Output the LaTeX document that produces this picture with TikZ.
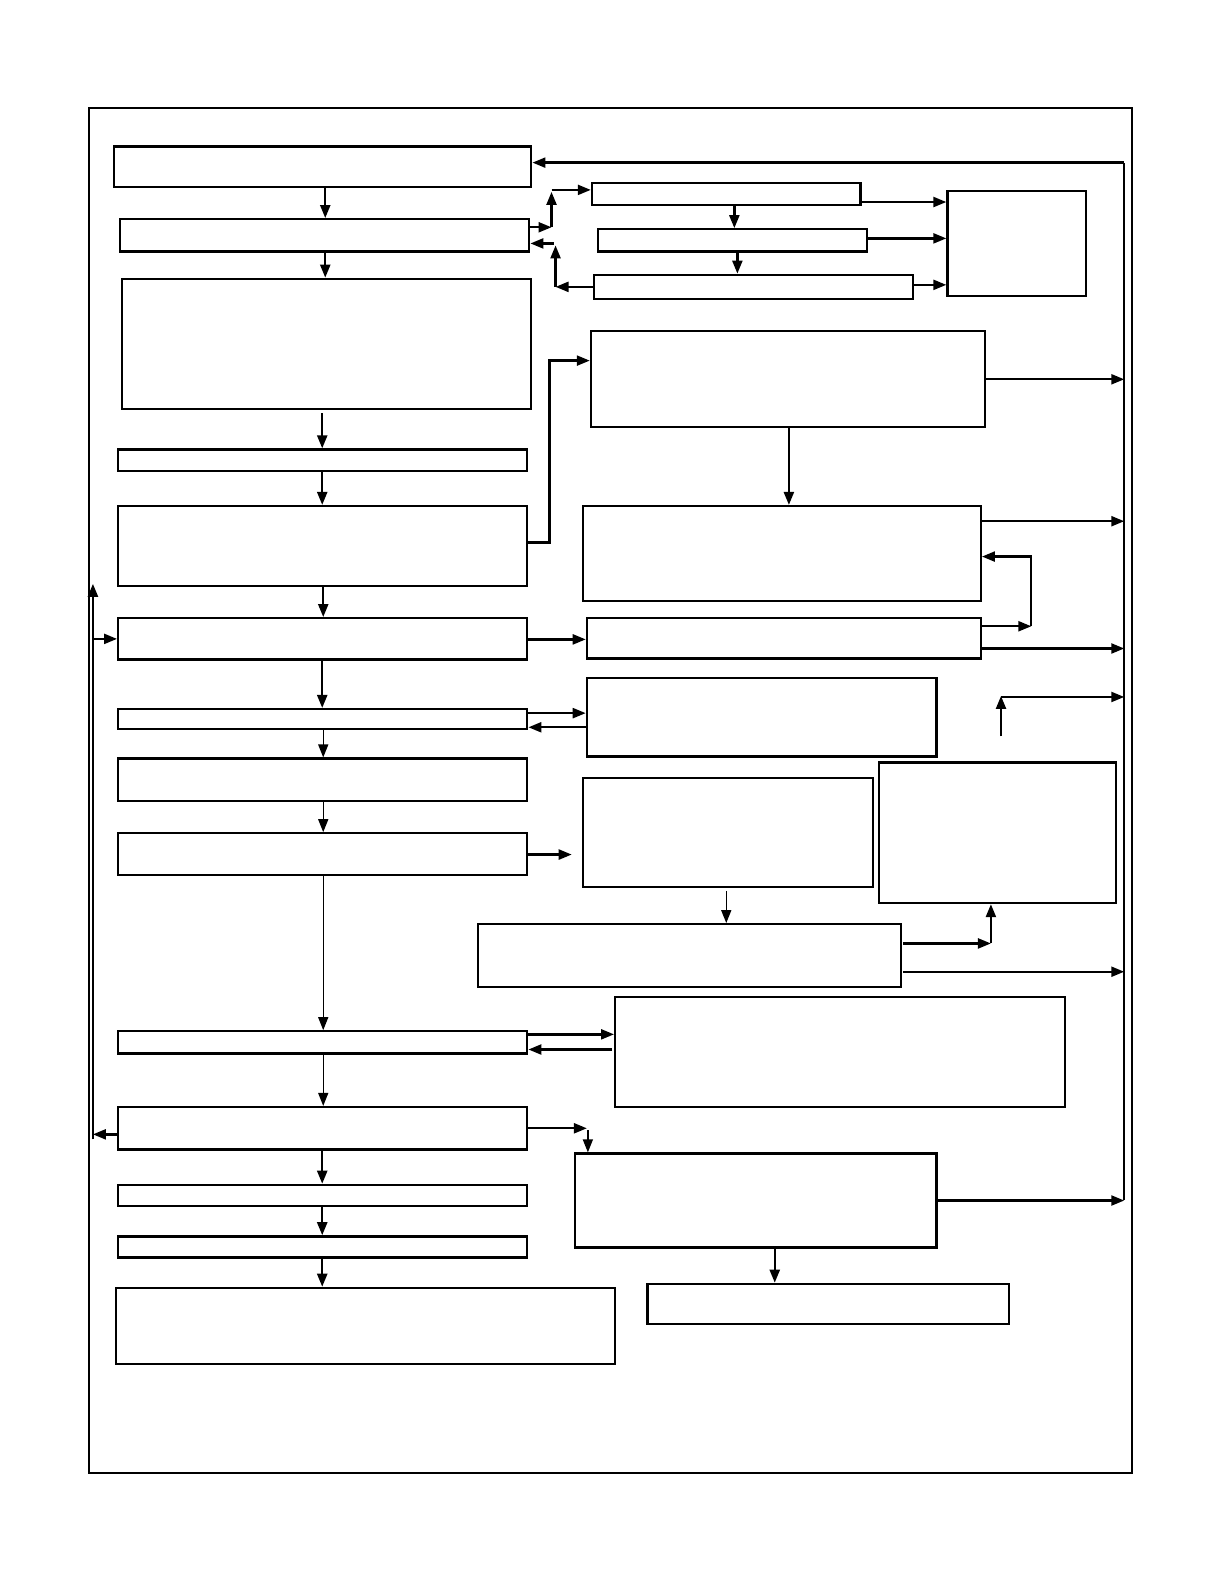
\documentclass[tikz,border=0pt]{standalone}
\usetikzlibrary{arrows.meta,fit}
\begin{document}
\begin{tikzpicture}[x=0.50505pt,y=-0.50505pt,
  box/.style={draw, line width=1.15pt, inner sep=0pt},
  ln/.style={line width=1.15pt},
  arr/.style={line width=1.15pt, -{Triangle[length=6.5pt,width=5pt]}},
  tarr/.style={line width=0.7pt, -{Triangle[length=6.5pt,width=5pt]}}]
\useasboundingbox (0pt,0pt) rectangle (612pt,-792pt);
% outer frame
\node[box, line width=1pt, fit={(88,107) (1121,1458)}] (frame) {};
% left column
\node[box, fit={(113,145) (526,185)}] (b1) {};
\node[box, fit={(119,217) (524,249)}] (b2) {};
\node[box, fit={(121,276) (526,405)}] (b3) {};
\node[box, fit={(117,445) (522,466)}] (b4) {};
\node[box, fit={(117,501) (522,580)}] (b5) {};
\node[box, fit={(117,612) (522,653)}] (b6) {};
\node[box, fit={(117,702) (522,722)}] (b7) {};
\node[box, fit={(117,751) (522,793)}] (b8) {};
\node[box, fit={(117,825) (522,866)}] (b9) {};
\node[box, fit={(117,1021) (522,1043)}] (b10) {};
\node[box, fit={(117,1096) (522,1138)}] (b11) {};
\node[box, fit={(117,1173) (522,1194)}] (b12) {};
\node[box, fit={(117,1224) (522,1245)}] (b13) {};
\node[box, fit={(115,1275) (609,1350)}] (b14) {};
% right side
\node[box, fit={(586,181) (852,203)}] (r1) {};
\node[box, fit={(592,227) (858,249)}] (r2) {};
\node[box, fit={(588,272) (904,296)}] (r3) {};
\node[box, fit={(938,189) (1075,293)}] (r4) {};
\node[box, fit={(585,328) (975,423)}] (r5) {};
\node[box, fit={(577,501) (971,595)}] (r6) {};
\node[box, fit={(581,612) (971,652)}] (r7) {};
\node[box, fit={(581,671) (927,749)}] (r8) {};
\node[box, fit={(577,770) (864,878)}] (r9) {};
\node[box, fit={(870,755) (1105,894)}] (r10) {};
\node[box, fit={(473,915) (892,977)}] (r11) {};
\node[box, fit={(609,987) (1054,1096)}] (r12) {};
\node[box, fit={(569,1142) (927,1235)}] (r13) {};
\node[box, fit={(641,1271) (999,1311)}] (r14) {};
% buses
\coordinate (busT) at (1113,161);
\coordinate (busB) at (1113,1188);
\coordinate (lbT) at (92,578);
\coordinate (lbB) at (92,1128);
\draw[ln] (busB) -- (busT);
\draw[arr] (busT) -- (b1.east |- busT);
\draw[arr] (lbB) -- (lbT);
\draw[arr] (lbT |- b6.west) -- (b6.west);
\draw[arr] (b11.west |- 0,1123) -- (lbT |- 0,1123);
% left column flow
\draw[arr] (b1.south -| 322,0) -- (b2.north -| 322,0);
\draw[arr] (b2.south -| 322,0) -- (b3.north -| 322,0);
\draw[arr] (319,409) -- (b4.north -| 319,0);
\draw[arr] (b4.south -| 319,0) -- (b5.north -| 319,0);
\draw[arr] (b5.south -| 320,0) -- (b6.north -| 320,0);
\draw[arr] (b6.south -| 319,0) -- (b7.north -| 319,0);
\draw[tarr] (b7.south -| 320,0) -- (b8.north -| 320,0);
\draw[tarr] (b8.south -| 320,0) -- (b9.north -| 320,0);
\draw[tarr] (b9.south -| 320,0) -- (b10.north -| 320,0);
\draw[tarr] (b10.south -| 320,0) -- (b11.north -| 320,0);
\draw[arr] (b11.south -| 319,0) -- (b12.north -| 319,0);
\draw[arr] (b12.south -| 319,0) -- (b13.north -| 319,0);
\draw[arr] (b13.south -| 319,0) -- (b14.north -| 319,0);
% top-right cluster
\draw[arr] (b2.east |- 0,225) -- (546,225);
\draw[arr] (546,225) -- (546,190);
\draw[arr] (546,188) -- (r1.west |- 0,188);
\draw[arr] (r3.west |- 0,284) -- (550,284);
\draw[arr] (550,284) -- (550,243);
\draw[arr] (548,241) -- (b2.east |- 0,241);
\draw[arr] (r1.south -| 727,0) -- (r2.north -| 727,0);
\draw[arr] (r2.south -| 730,0) -- (r3.north -| 730,0);
\draw[arr] (r1.east |- 0,200) -- (r4.west |- 0,200);
\draw[arr] (r2.east |- 0,236) -- (r4.west |- 0,236);
\draw[arr] (r3.east |- 0,282) -- (r4.west |- 0,282);
% middle
\draw[arr] (b5.east |- 0,537) -- (544,537) -- (544,357) -- (r5.west |- 0,357);
\draw[arr] (r5.east) -- (busT |- r5.east);
\draw[arr] (r5.south -| 781,0) -- (r6.north -| 781,0);
\draw[arr] (r6.east |- 0,516) -- (busT |- 0,516);
\draw[arr] (r7.east |- 0,620) -- (1021,620);
\draw[arr] (1021,620) -- (1021,551) -- (r6.east |- 0,551);
\draw[arr] (r7.east |- 0,642) -- (busT |- 0,642);
\draw[arr] (b6.east |- 0,633) -- (r7.west |- 0,633);
\draw[arr] (b7.east |- 0,706) -- (r8.west |- 0,706);
\draw[arr] (r8.west |- 0,720) -- (b7.east |- 0,720);
\coordinate (f1a) at (991,729);
\coordinate (f1b) at (991,689);
\draw[arr] (f1a) -- (f1b);
\draw[arr] (991,690) -- (busT |- 0,690);
\coordinate (f2) at (566,846);
\draw[arr] (b9.east |- f2) -- (f2);
\draw[tarr] (719,882) -- (r11.north -| 719,0);
\draw[arr] (894,934) -- (981,934);
\draw[arr] (981,934) -- (r10.south -| 981,0);
\draw[arr] (894,962) -- (busT |- 0,962);
% lower
\draw[arr] (b10.east |- 0,1024) -- (r12.west |- 0,1024);
\draw[arr] (606,1039) -- (b10.east |- 0,1039);
\draw[arr] (b11.east |- 0,1117) -- (581,1117);
\draw[tarr] (582,1119) -- (r13.north -| 582,0);
\draw[arr] (r13.east) -- (busT |- r13.east);
\draw[arr] (r13.south -| 767,0) -- (r14.north -| 767,0);
\end{tikzpicture}
\end{document}
